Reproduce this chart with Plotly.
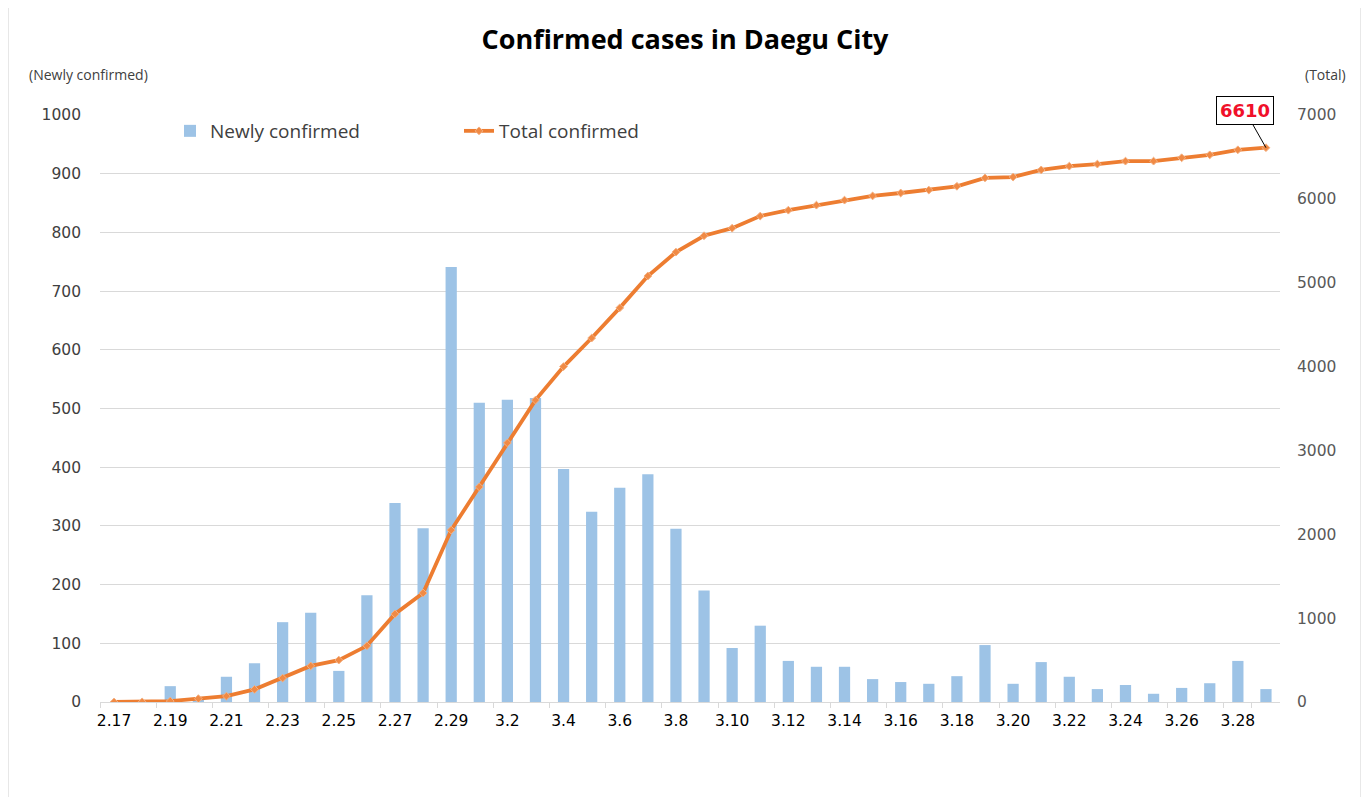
import plotly.graph_objects as go

dates = ["2.17", "2.18", "2.19", "2.20", "2.21", "2.22", "2.23", "2.24", "2.25", "2.26",
         "2.27", "2.28", "2.29", "3.1", "3.2", "3.3", "3.4", "3.5", "3.6", "3.7",
         "3.8", "3.9", "3.10", "3.11", "3.12", "3.13", "3.14", "3.15", "3.16", "3.17",
         "3.18", "3.19", "3.20", "3.21", "3.22", "3.23", "3.24", "3.25", "3.26", "3.27",
         "3.28", "3.29"]

newly_confirmed = [0, 1, 27, 5, 43, 66, 136, 152, 53, 182,
                   339, 296, 741, 510, 515, 518, 397, 324, 365, 388,
                   295, 190, 92, 130, 70, 60, 60, 39, 34, 31,
                   44, 97, 31, 68, 43, 22, 29, 14, 24, 32,
                   70, 22]

total_confirmed = [0, 1, 11, 40, 70, 150, 285, 430, 500, 670,
                   1050, 1300, 2050, 2565, 3090, 3600, 4000, 4340, 4700, 5080,
                   5365, 5560, 5650, 5795, 5865, 5925, 5985, 6035, 6070, 6105,
                   6150, 6250, 6260, 6345, 6390, 6415, 6450, 6450, 6490, 6525,
                   6585, 6610]

tick_labels = dates[::2]

W, H = 1369, 797
OFF = 8  # page offset of the figure inside the browser window
# target plot area in page pixels: x 100..1280, y 115..702
L = 100 - OFF
T = 115 - OFF
R = W - (1280 - OFF)
B = H - (702 - OFF)
pw, ph = W - L - R, H - T - B


def px(xp):  # page x -> paper x
    return (xp - OFF - L) / pw


def py(yp):  # page y -> paper y
    return (H - B - (yp - OFF)) / ph


fig = go.Figure()
fig.add_trace(go.Bar(
    x=dates, y=newly_confirmed, name="Newly confirmed",
    marker=dict(color="#9DC3E6", line=dict(width=0)),
    yaxis="y",
))
fig.add_trace(go.Scatter(
    x=dates, y=total_confirmed, name="Total confirmed",
    mode="lines+markers",
    line=dict(color="#ED7D31", width=3.8),
    marker=dict(symbol="diamond", size=6, color="#F08A45",
                line=dict(color="#F4B183", width=1)),
    yaxis="y2",
))

last_idx = len(dates) - 1
fig.add_annotation(
    x=last_idx, y=total_confirmed[-1], xref="x", yref="y2",
    text="<b>%d</b>" % total_confirmed[-1],
    font=dict(family="DejaVu Sans", size=18, color="#F0102A"),
    showarrow=True, arrowhead=0, arrowwidth=1, arrowcolor="#000000",
    ax=-21, ay=-37, standoff=0,
    bordercolor="#000000", borderwidth=1, borderpad=3, bgcolor="#FFFFFF",
)

fig.add_annotation(
    x=px(27), y=py(75), xref="paper", yref="paper",
    text="(Newly confirmed)", showarrow=False, xanchor="left", yanchor="middle",
    font=dict(family="Open Sans", size=14, color="#404040"),
)
fig.add_annotation(
    x=px(1348), y=py(75), xref="paper", yref="paper",
    text="(Total)", showarrow=False, xanchor="right", yanchor="middle",
    font=dict(family="Open Sans", size=14, color="#404040"),
)

fig.add_shape(
    type="rect", xref="paper", yref="paper",
    x0=px(8), x1=px(1361), y0=py(805), y1=py(7),
    line=dict(color="#D0D0D0", width=1), fillcolor="rgba(0,0,0,0)", layer="below",
)

fig.update_layout(
    width=W, height=H,
    margin=dict(l=L, r=R, t=T, b=B),
    paper_bgcolor="#FFFFFF", plot_bgcolor="#FFFFFF",
    title=dict(text="<b>Confirmed cases in Daegu City</b>", x=px(685), xanchor="center",
               xref="paper",
               y=1 - (40 - OFF) / H, yanchor="middle",
               font=dict(family="Open Sans", size=27, color="#000000")),
    bargap=0.6,
    showlegend=True,
    legend=dict(orientation="h", x=px(170), y=py(131),
                xanchor="left", yanchor="middle", bgcolor="rgba(0,0,0,0)",
                font=dict(family="Open Sans", size=19, color="#404040"),
                entrywidth=244, traceorder="normal"),
    xaxis=dict(
        type="category", categoryorder="array", categoryarray=dates,
        tickmode="array", tickvals=tick_labels, ticktext=tick_labels,
        tickson="boundaries", ticks="outside", ticklen=5, tickcolor="#D9D9D9",
        showline=True, linecolor="#D9D9D9", linewidth=1,
        showgrid=False, tickangle=0,
        tickfont=dict(family="DejaVu Sans", size=15.5, color="#000000"),
        ticklabelstandoff=4,
        range=[-0.5, len(dates) - 0.5],
    ),
    yaxis=dict(
        range=[0, 1000], dtick=100, tick0=0,
        showgrid=True, gridcolor="#D9D9D9", gridwidth=1,
        zeroline=False, showline=False, ticks="",
        tickfont=dict(family="DejaVu Sans", size=15.5, color="#404040"),
        ticklabelstandoff=18,
    ),
    yaxis2=dict(
        range=[0, 7000], dtick=1000, tick0=0, overlaying="y", side="right",
        showgrid=False, zeroline=False, showline=False, ticks="",
        tickfont=dict(family="DejaVu Sans", size=15.5, color="#595959"),
        ticklabelstandoff=16,
    ),
)

fig.write_html("out.html")
